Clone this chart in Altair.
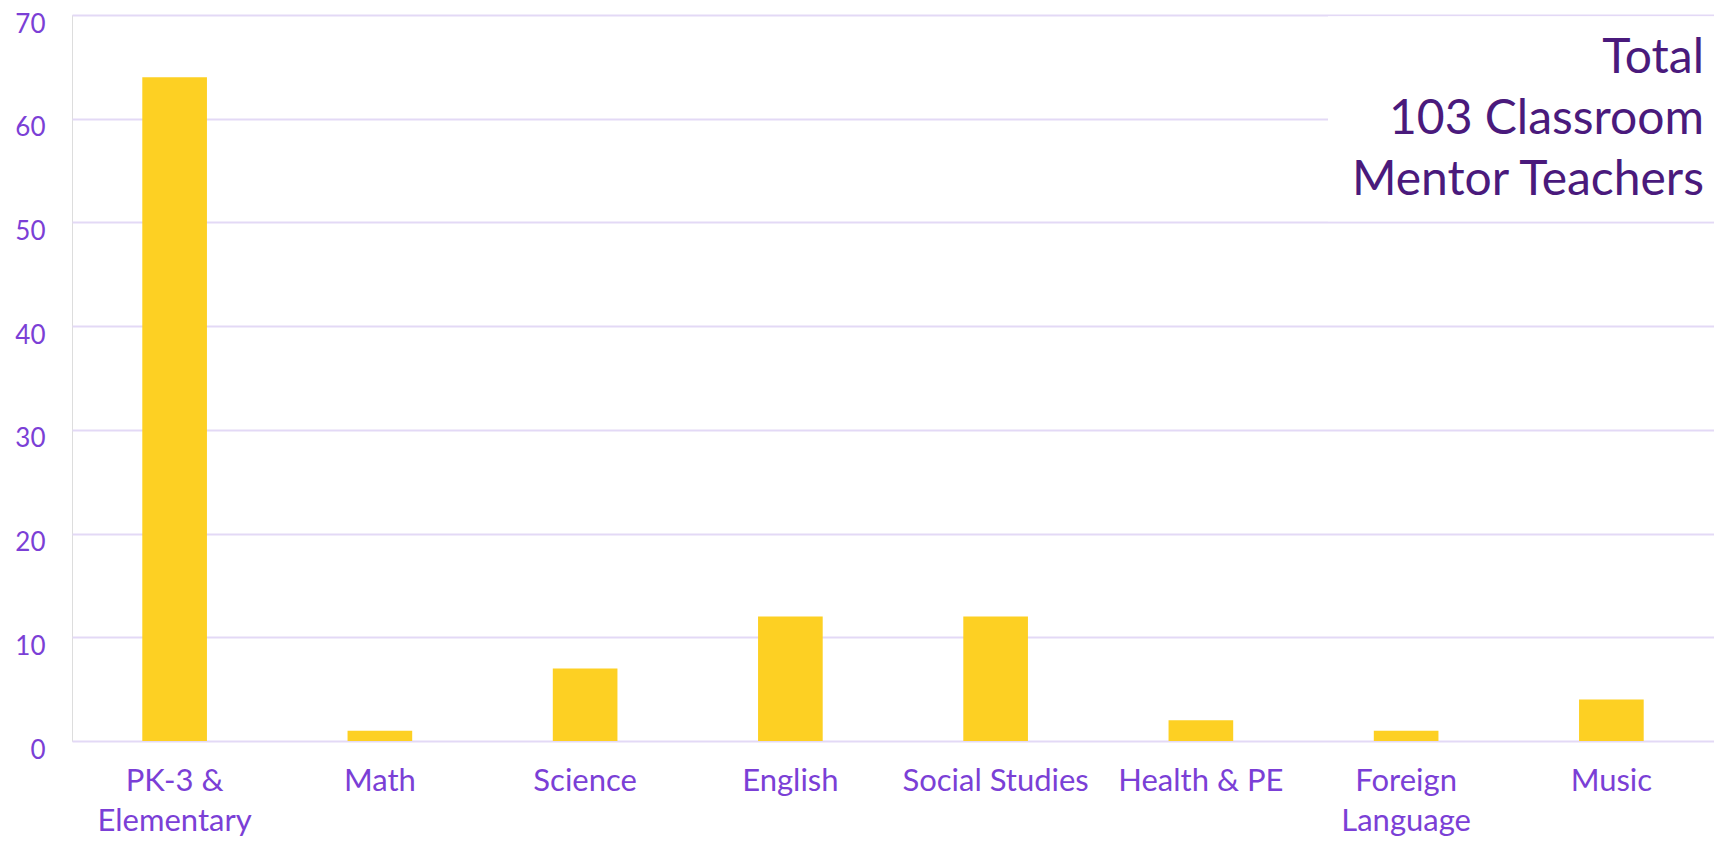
import altair as alt
import pandas as pd

categories = ["PK-3 & Elementary", "Math", "Science", "English", "Social Studies",
              "Health & PE", "Foreign Language", "Music"]
labels = ["PK-3 &\nElementary", "Math", "Science", "English", "Social Studies",
          "Health & PE", "Foreign\nLanguage", "Music"]
values = [64, 1, 7, 12, 12, 2, 1, 4]
y_ticks = [0, 10, 20, 30, 40, 50, 60, 70]
note_lines = ["Total", "103 Classroom", "Mentor Teachers"]

FONT = "Lato"
W, H = 1642, 726

df = pd.DataFrame({"category": labels, "value": values})

x_enc = alt.X("category:N", sort=labels, title=None,
              scale=alt.Scale(paddingInner=0.685, paddingOuter=0.3425),
              axis=alt.Axis(labelAngle=0, ticks=False, domain=False, grid=False,
                            labelFont=FONT, labelFontSize=31, labelColor="#7B3FD6",
                            labelLineHeight=40, labelPadding=25, labelLimit=0,
                            labelExpr="split(datum.label, '\\n')"))
y_enc = alt.Y("value:Q", title=None,
              scale=alt.Scale(domain=[0, 70], nice=False),
              axis=alt.Axis(values=y_ticks, ticks=False, domain=False,
                            gridColor="#E3D9F6", gridWidth=2,
                            labelFont=FONT, labelFontSize=26, labelColor="#7B3FD6",
                            labelPadding=27, labelBaseline="alphabetic",
                            labelOffset=17, labelFlush=False))

bars = alt.Chart(df).mark_bar(color="#FDD023").encode(x=x_enc, y=y_enc)

box_df = pd.DataFrame({"top": [69.88], "bottom": [50.12]})
box = alt.Chart(box_df).mark_rect(color="white").encode(
    x=alt.value(1256), x2=alt.value(W),
    y=alt.Y("top:Q", scale=alt.Scale(domain=[0, 70], nice=False)),
    y2="bottom:Q")

note_df = pd.DataFrame({"t": [note_lines]})
note = alt.Chart(note_df).mark_text(
    font=FONT, fontSize=48, color="#4A1A7C", align="right",
    baseline="alphabetic", lineHeight=61
).encode(text="t", x=alt.value(1632), y=alt.value(58))

chart = alt.layer(bars, box, note).properties(
    width=W, height=H,
    autosize=alt.AutoSizeParams(type="none"),
    padding={"left": 64, "top": 7, "right": 0, "bottom": 100},
).configure_view(stroke=None).configure(background="white")

chart.save("out.html", embed_options={"renderer": "svg", "actions": False})
